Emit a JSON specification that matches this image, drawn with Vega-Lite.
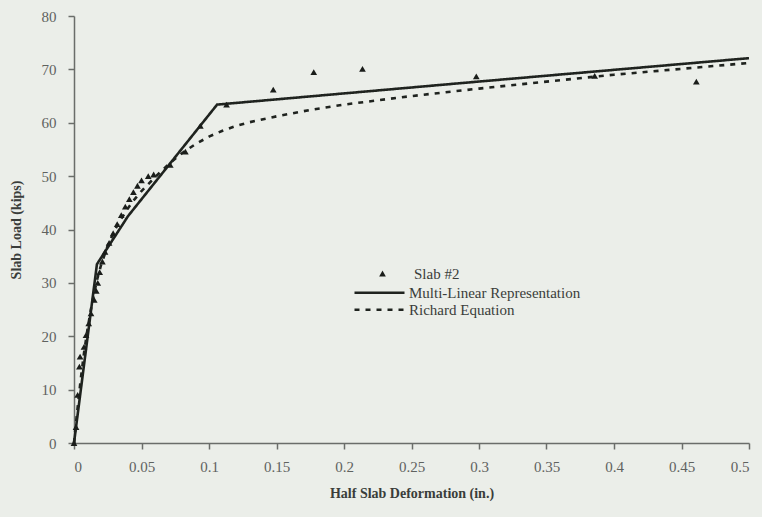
{
  "$schema": "https://vega.github.io/schema/vega-lite/v6.json",
  "autosize": {"type": "none"},
  "padding": {"left": 74, "top": 16, "right": 13, "bottom": 74},
  "width": 675,
  "height": 427,
  "background": "#ebeee9",
  "config": {
    "view": {"stroke": null},
    "font": "Liberation Serif",
    "axis": {
      "grid": false,
      "domainColor": "#6a6d6a",
      "domainWidth": 1.5,
      "tickColor": "#6a6d6a",
      "tickWidth": 1.5,
      "tickSize": 6,
      "labelFont": "Liberation Serif",
      "labelFontSize": 15,
      "labelColor": "#5f625f",
      "titleFont": "Liberation Serif",
      "titleFontSize": 14,
      "titleFontWeight": "bold",
      "titleColor": "#3a3d3a"
    }
  },
  "datasets": {
    "curves": [
      {"series": "Multi-Linear Representation", "d": 0, "p": 0},
      {"series": "Multi-Linear Representation", "d": 0.017, "p": 33.5},
      {"series": "Multi-Linear Representation", "d": 0.04, "p": 42.5},
      {"series": "Multi-Linear Representation", "d": 0.106, "p": 63.4},
      {"series": "Multi-Linear Representation", "d": 0.29, "p": 67.5},
      {"series": "Multi-Linear Representation", "d": 0.5, "p": 72.1},
      {"series": "Richard Equation", "d": 0, "p": 0},
      {"series": "Richard Equation", "d": 0.002, "p": 5},
      {"series": "Richard Equation", "d": 0.005, "p": 12},
      {"series": "Richard Equation", "d": 0.0075, "p": 17},
      {"series": "Richard Equation", "d": 0.01, "p": 21.3},
      {"series": "Richard Equation", "d": 0.0125, "p": 25},
      {"series": "Richard Equation", "d": 0.015, "p": 28.2},
      {"series": "Richard Equation", "d": 0.0175, "p": 31},
      {"series": "Richard Equation", "d": 0.02, "p": 33.3},
      {"series": "Richard Equation", "d": 0.025, "p": 37},
      {"series": "Richard Equation", "d": 0.03, "p": 39.8},
      {"series": "Richard Equation", "d": 0.035, "p": 42},
      {"series": "Richard Equation", "d": 0.04, "p": 44},
      {"series": "Richard Equation", "d": 0.045, "p": 45.7},
      {"series": "Richard Equation", "d": 0.05, "p": 47.2},
      {"series": "Richard Equation", "d": 0.06, "p": 49.8},
      {"series": "Richard Equation", "d": 0.07, "p": 52.2},
      {"series": "Richard Equation", "d": 0.08, "p": 54.3},
      {"series": "Richard Equation", "d": 0.09, "p": 56},
      {"series": "Richard Equation", "d": 0.1, "p": 57.4},
      {"series": "Richard Equation", "d": 0.11, "p": 58.5},
      {"series": "Richard Equation", "d": 0.12, "p": 59.4},
      {"series": "Richard Equation", "d": 0.13, "p": 60.1},
      {"series": "Richard Equation", "d": 0.15, "p": 61.2},
      {"series": "Richard Equation", "d": 0.175, "p": 62.4},
      {"series": "Richard Equation", "d": 0.2, "p": 63.4},
      {"series": "Richard Equation", "d": 0.25, "p": 65.0},
      {"series": "Richard Equation", "d": 0.3, "p": 66.4},
      {"series": "Richard Equation", "d": 0.35, "p": 67.7},
      {"series": "Richard Equation", "d": 0.4, "p": 69.0},
      {"series": "Richard Equation", "d": 0.45, "p": 70.1},
      {"series": "Richard Equation", "d": 0.5, "p": 71.2}
    ],
    "slab": [
      {"series": "Slab #2", "d": 0, "p": 0},
      {"series": "Slab #2", "d": 0.0015, "p": 3},
      {"series": "Slab #2", "d": 0.0027, "p": 9},
      {"series": "Slab #2", "d": 0.004, "p": 14.3},
      {"series": "Slab #2", "d": 0.0045, "p": 16.2},
      {"series": "Slab #2", "d": 0.0074, "p": 18},
      {"series": "Slab #2", "d": 0.0089, "p": 20.2},
      {"series": "Slab #2", "d": 0.0109, "p": 22.4},
      {"series": "Slab #2", "d": 0.0126, "p": 24.3},
      {"series": "Slab #2", "d": 0.015, "p": 26.8},
      {"series": "Slab #2", "d": 0.0165, "p": 28.5},
      {"series": "Slab #2", "d": 0.0176, "p": 30},
      {"series": "Slab #2", "d": 0.019, "p": 32},
      {"series": "Slab #2", "d": 0.021, "p": 34},
      {"series": "Slab #2", "d": 0.023, "p": 35.8},
      {"series": "Slab #2", "d": 0.026, "p": 37.5},
      {"series": "Slab #2", "d": 0.029, "p": 39.3},
      {"series": "Slab #2", "d": 0.032, "p": 41},
      {"series": "Slab #2", "d": 0.035, "p": 42.7},
      {"series": "Slab #2", "d": 0.038, "p": 44.3},
      {"series": "Slab #2", "d": 0.041, "p": 45.7},
      {"series": "Slab #2", "d": 0.044, "p": 47},
      {"series": "Slab #2", "d": 0.047, "p": 48.2},
      {"series": "Slab #2", "d": 0.05, "p": 49.2},
      {"series": "Slab #2", "d": 0.055, "p": 50},
      {"series": "Slab #2", "d": 0.059, "p": 50.3},
      {"series": "Slab #2", "d": 0.0713, "p": 52.1},
      {"series": "Slab #2", "d": 0.0825, "p": 54.6},
      {"series": "Slab #2", "d": 0.0936, "p": 59.4},
      {"series": "Slab #2", "d": 0.113, "p": 63.4},
      {"series": "Slab #2", "d": 0.1476, "p": 66.2},
      {"series": "Slab #2", "d": 0.1776, "p": 69.5},
      {"series": "Slab #2", "d": 0.2137, "p": 70.1},
      {"series": "Slab #2", "d": 0.298, "p": 68.7},
      {"series": "Slab #2", "d": 0.3857, "p": 68.8},
      {"series": "Slab #2", "d": 0.461, "p": 67.7}
    ]
  },
  "encoding": {
    "x": {
      "field": "d",
      "type": "quantitative",
      "title": "Half Slab Deformation (in.)",
      "scale": {"domain": [0, 0.5], "nice": false, "zero": true},
      "axis": {"values": [0, 0.05, 0.1, 0.15, 0.2, 0.25, 0.3, 0.35, 0.4, 0.45, 0.5], "format": ".2~f", "labelPadding": 10, "titlePadding": 12}
    },
    "y": {
      "field": "p",
      "type": "quantitative",
      "title": "Slab Load (kips)",
      "scale": {"domain": [0, 80], "nice": false},
      "axis": {"values": [0, 10, 20, 30, 40, 50, 60, 70, 80], "labelPadding": 12, "titlePadding": 18}
    }
  },
  "layer": [
    {
      "data": {"name": "curves"},
      "mark": {"type": "line", "color": "#1f231f", "strokeWidth": 2.6, "strokeCap": "butt", "clip": false},
      "encoding": {
        "strokeDash": {
          "field": "series",
          "type": "nominal",
          "scale": {"domain": ["Multi-Linear Representation", "Richard Equation"], "range": [[1, 0], [5, 6]]},
          "legend": {
            "title": null,
            "orient": "none",
            "legendX": 279,
            "legendY": 268.5,
            "padding": 0,
            "symbolType": "stroke",
            "symbolSize": 2500,
            "symbolStrokeWidth": 2.6,
            "symbolStrokeColor": "#1f231f",
            "labelFont": "Liberation Serif",
            "labelFontSize": 15,
            "labelColor": "#3a3d3a",
            "labelOffset": 3,
            "labelLimit": 0,
            "clipHeight": 16.5,
            "rowPadding": 0
          }
        }
      }
    },
    {
      "data": {"name": "slab"},
      "mark": {"type": "point", "filled": true, "color": "#1a1d1a", "opacity": 1, "size": 45},
      "encoding": {
        "shape": {
          "field": "series",
          "type": "nominal",
          "scale": {"domain": ["Slab #2"], "range": ["triangle-up"]},
          "legend": {
            "title": null,
            "orient": "none",
            "legendX": 301,
            "legendY": 250,
            "padding": 0,
            "symbolSize": 45,
            "symbolFillColor": "#1a1d1a",
            "symbolStrokeColor": "#1a1d1a",
            "labelFont": "Liberation Serif",
            "labelFontSize": 15,
            "labelColor": "#3a3d3a",
            "labelOffset": 24
          }
        }
      }
    }
  ]
}
